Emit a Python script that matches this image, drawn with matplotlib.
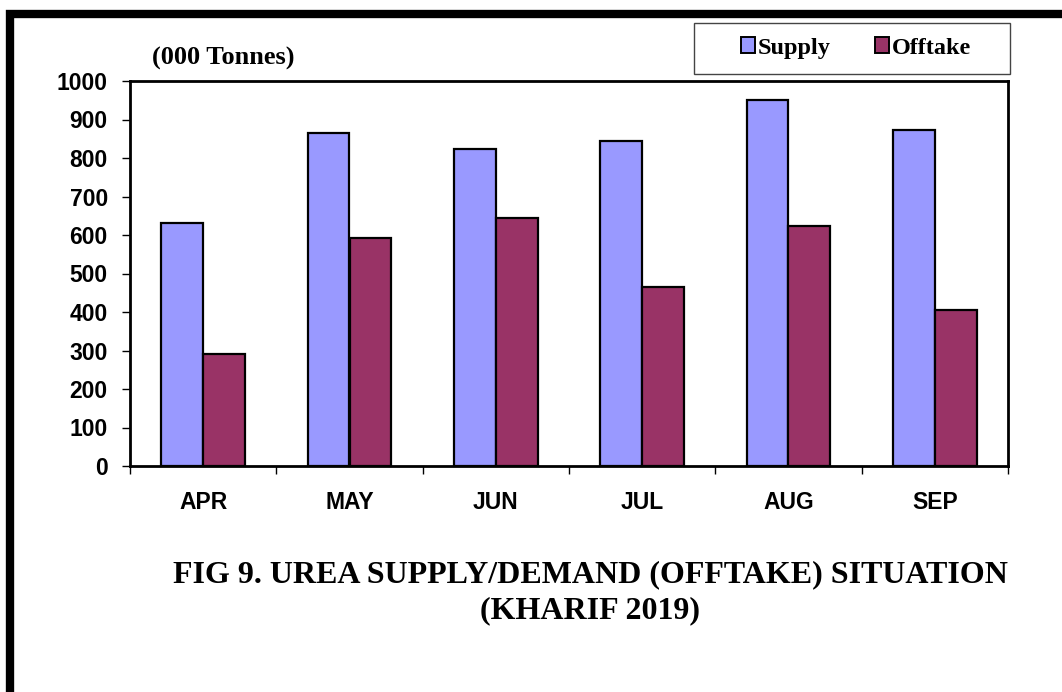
import matplotlib.pyplot as plt
import numpy as np
from matplotlib.lines import Line2D
from matplotlib.patches import Patch, Rectangle

months = ["APR", "MAY", "JUN", "JUL", "AUG", "SEP"]
supply = [630, 864, 823, 844, 950, 873]
offtake = [291, 592, 643, 464, 624, 404]

supply_color = "#9999FF"
offtake_color = "#993366"

fig = plt.figure(figsize=(10.62, 6.92), dpi=100)
W, H = 1062, 692

# outer thick frame (left and top only, as in the source)
fig.add_artist(Line2D([10 / W, 10 / W, 1.0], [0.0, 1 - 14 / H, 1 - 14 / H],
                      transform=fig.transFigure, color="black", lw=6,
                      solid_joinstyle="miter"))

ax = fig.add_axes([130 / W, 1 - 466 / H, (1008 - 130) / W, (466 - 81) / H])
x = np.arange(len(months))
w = 0.285
ax.bar(x - w / 2, supply, w, color=supply_color, edgecolor="black", lw=1.6)
ax.bar(x + w / 2, offtake, w, color=offtake_color, edgecolor="black", lw=1.6)

ax.set_xlim(-0.5, len(months) - 0.5)
ax.set_ylim(0, 1000)
ax.set_yticks(range(0, 1001, 100))
ax.set_xticks(x)
ax.set_xticklabels(months)
ax.set_xticks(np.arange(-0.5, len(months), 1), minor=True)
ax.tick_params(axis="x", which="major", length=0, pad=18)
ax.tick_params(axis="x", which="minor", length=6, width=1, direction="out")
ax.tick_params(axis="y", length=6, width=1, pad=10)
for lab in ax.get_xticklabels() + ax.get_yticklabels():
    lab.set_fontfamily("Liberation Sans")
    lab.set_fontweight("bold")
    lab.set_fontsize(16.5)
for sp in ax.spines.values():
    sp.set_linewidth(2)

fig.text(152 / W, 1 - 58 / H, "(000 Tonnes)", family="Liberation Serif",
         weight="bold", fontsize=19, va="center", ha="left")

# legend box drawn by hand, entries via legend without frame
fig.add_artist(Rectangle((694 / W, 1 - 74 / H), 316 / W, 51 / H,
                         transform=fig.transFigure, facecolor="white",
                         edgecolor="#444444", lw=1))
handles = [Patch(facecolor=supply_color, edgecolor="black", lw=1.4, label="Supply"),
           Patch(facecolor=offtake_color, edgecolor="black", lw=1.4, label="Offtake")]
leg = fig.legend(handles=handles, loc="center", ncol=2,
                 bbox_to_anchor=(856 / W, 1 - 48 / H),
                 prop={"family": "Liberation Serif", "weight": "bold", "size": 17.5},
                 frameon=False, handlelength=0.6, handleheight=0.6,
                 handletextpad=0.12, columnspacing=1.8, borderpad=0,
                 borderaxespad=0)

fig.text(590 / W, 1 - 593 / H, "FIG 9. UREA SUPPLY/DEMAND (OFFTAKE) SITUATION\n(KHARIF 2019)",
         family="Liberation Serif", weight="bold", fontsize=23, ha="center",
         va="center", linespacing=1.3, multialignment="center")

fig.savefig("out.png", dpi=100)
